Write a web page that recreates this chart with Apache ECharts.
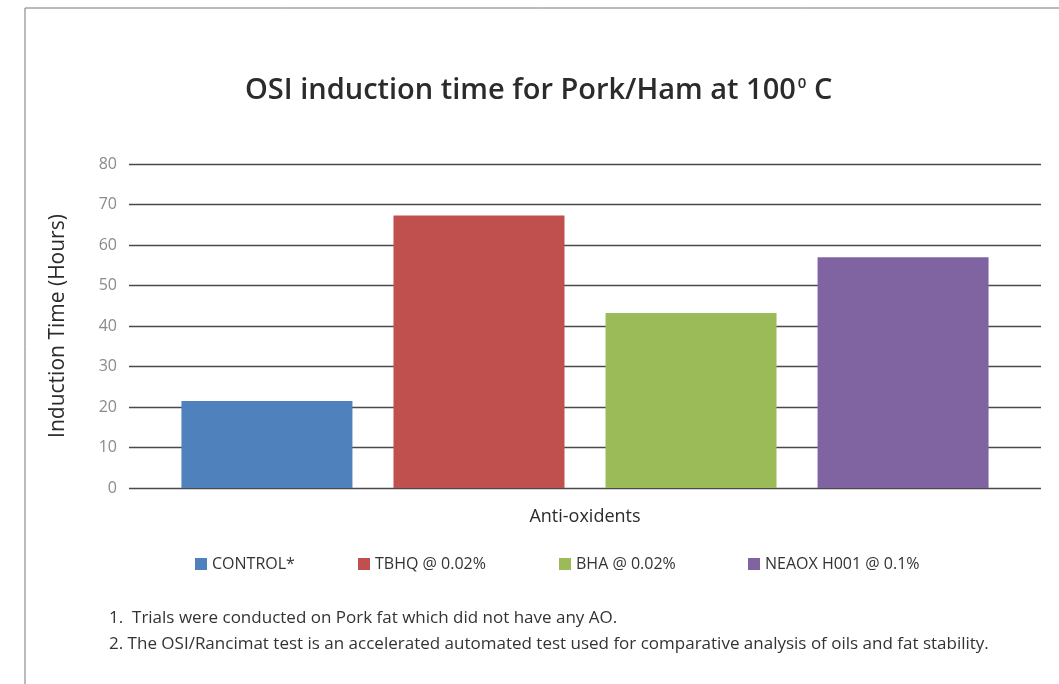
<!DOCTYPE html>
<html>
<head>
<meta charset="utf-8">
<script src="https://cdn.jsdelivr.net/npm/echarts@6/dist/echarts.min.js"></script>
<style>
  html, body { margin: 0; padding: 0; background: #fff; }
  #chart { width: 1059px; height: 684px; }
</style>
</head>
<body>
<div id="chart"></div>
<script>
const categories = ['Anti-oxidents']
const seriesNames = ['CONTROL*', 'TBHQ @ 0.02%', 'BHA @ 0.02%', 'NEAOX H001 @ 0.1%']
const seriesValues = [21.5, 67.3, 43.2, 57.0]
const colors = ['#4f81bd', '#c0504d', '#9bbb59', '#8064a2']
const notes = [
  '1.  Trials were conducted on Pork fat which did not have any AO.',
  '2. The OSI/Rancimat test is an accelerated automated test used for comparative analysis of oils and fat stability.'
]

const font = '"Open Sans", sans-serif'
const legendLeft = [190, 353, 554, 743]

const chart = echarts.init(document.getElementById('chart'))

chart.setOption({
  animation: false,
  textStyle: { fontFamily: font },
  title: {
    text: 'OSI induction time for Pork/Ham at 100{sup|0} C',
    left: 240,
    top: 71,
    textStyle: {
      fontFamily: font, fontSize: 29, fontWeight: 600, color: '#2b2b2b',
      rich: { sup: { fontFamily: font, fontSize: 15, fontWeight: 600, color: '#2b2b2b', verticalAlign: 'top', padding: [0, 0, 14, 2] } }
    }
  },
  legend: seriesNames.map((n, i) => ({
    data: [n],
    left: legendLeft[i],
    top: 551,
    itemWidth: 12,
    itemHeight: 12,
    icon: 'rect',
    itemGap: 8,
    textStyle: { fontFamily: font, fontSize: 16, color: '#333' }
  })),
  grid: { left: 129, right: 18, top: 164, bottom: 196 },
  xAxis: {
    type: 'category',
    data: categories,
    axisLine: { show: false },
    axisTick: { show: false },
    axisLabel: { show: false },
    name: 'Anti-oxidents',
    nameLocation: 'middle',
    nameGap: 20,
    nameTextStyle: { fontFamily: font, fontSize: 18, color: '#2b2b2b' }
  },
  yAxis: {
    type: 'value',
    min: 0,
    max: 80,
    interval: 10,
    axisLine: { show: false },
    axisTick: { show: false },
    axisLabel: { color: '#8a8a8a', fontSize: 16, margin: 12, fontFamily: font },
    splitLine: { lineStyle: { color: '#4a4a4a', width: 1.3 } },
    name: 'Induction Time (Hours)',
    nameLocation: 'middle',
    nameGap: 60,
    nameTextStyle: { fontFamily: font, fontSize: 21, color: '#2b2b2b' }
  },
  graphic: [
    { type: 'polyline', shape: { points: [[25, 690], [25, 8], [1070, 8]] }, style: { stroke: '#777', lineWidth: 1, fill: null } },
    ...notes.map((t, i) => ({
      type: 'text', left: 109, top: 610 + i * 26,
      style: { text: t, fontFamily: font, fontSize: 17, fill: '#333' }
    }))
  ],
  series: seriesNames.map((n, i) => ({
    name: n,
    type: 'bar',
    data: [seriesValues[i]],
    barWidth: 171,
    barGap: '24%',
    itemStyle: { color: colors[i] }
  }))
})
</script>
</body>
</html>
